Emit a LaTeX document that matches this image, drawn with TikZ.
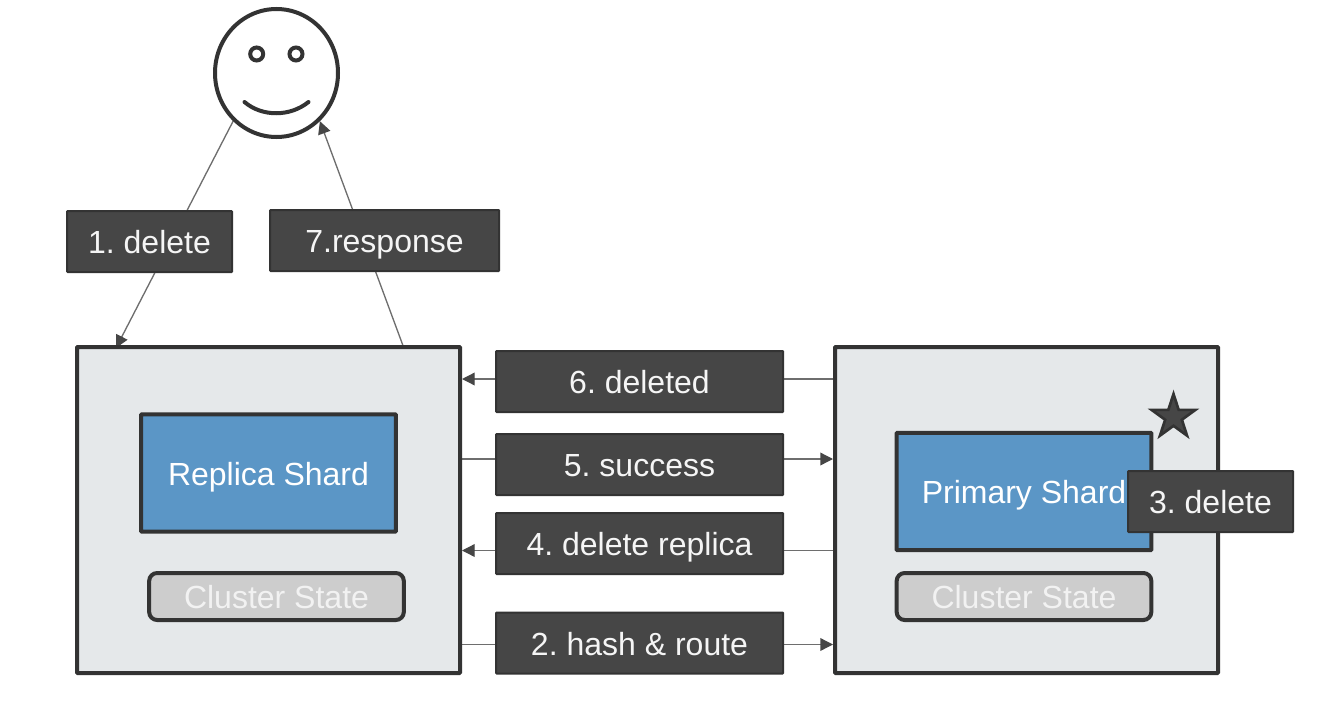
\documentclass[tikz,border=0pt]{standalone}
\usepackage{fontspec}
\setmainfont{Liberation Sans}
\usetikzlibrary{arrows.meta}
\usetikzlibrary{shapes.geometric}
\definecolor{edgeDark}{HTML}{333333}
\definecolor{labelDark}{HTML}{464646}
\definecolor{linkGray}{HTML}{6E6E6E}
\definecolor{nodeBack}{HTML}{E5E8EA}
\definecolor{shardBlue}{HTML}{5B96C6}
\definecolor{stateGray}{HTML}{CDCDCD}
\pgfdeclarelayer{back}
\pgfsetlayers{back,main}
\frenchspacing
\tikzset{
  txt/.style={font=\fontsize{24}{28}\selectfont,text height=18.7pt,text depth=0pt,align=center,inner sep=0pt},
  hostbox/.style={draw=edgeDark,fill=nodeBack,line width=3pt,minimum width=287.25pt,minimum height=244.5pt,rounded corners=0.5pt},
  shardbox/.style={txt,draw=edgeDark,fill=shardBlue,text=white,line width=3pt,minimum width=191pt,minimum height=88pt,rounded corners=0.5pt},
  statebox/.style={txt,draw=edgeDark,fill=stateGray,text=white!95!black,line width=3pt,minimum width=191pt,minimum height=35.25pt,rounded corners=6pt},
  msgbox/.style={txt,draw=edgeDark,fill=labelDark,text=white!96!black,line width=1.5pt,minimum height=45.75pt,rounded corners=0.5pt},
  link/.style={draw=linkGray,line width=1pt,-{Triangle[length=9.5pt,width=9.5pt,color=labelDark]}},
  eye/.style={circle,draw=edgeDark,fill=white,line width=3pt,minimum size=9.75pt,inner sep=0pt},
}
\begin{document}
\begin{tikzpicture}[x=0.75pt,y=0.75pt,yscale=-1,xscale=1]
\useasboundingbox (0,0) rectangle (1317,717);

% Person
\node [ellipse,draw=edgeDark,fill=white,line width=3pt,minimum width=92.25pt,minimum height=96pt,inner sep=0pt] (face) at (276.5,73) {};
\node [eye] (eyeLeft) at (256.7,54) {};
\node [eye] (eyeRight) at (296,54) {};
\draw [edgeDark,line width=3pt,line cap=round] (244.5,102) .. controls (262,117) and (290,117) .. (308.5,102) ;

% Hosts
\node [hostbox] (replica) at (268.5,510) {};
\node [hostbox] (primary) at (1026.5,510) {};

% Text Node
\node [shardbox] (replicaShard) at (268.5,473) {Replica Shard};
\node [shardbox] (primaryShard) at (1024,491.5) {Primary Shard};
\node [statebox] (replicaState) at (276.5,596.5) {Cluster State};
\node [statebox] (primaryState) at (1024,596.5) {Cluster State};
\node [star,star points=5,star point ratio=2.618,draw=edgeDark,fill=labelDark,line width=2pt,minimum size=34.5pt,inner sep=0pt] (primaryMark) at (1173.5,417) {};

% Labels
\node [msgbox,minimum width=123.75pt] (msgDelete) at (149.5,241.5) {1. delete};
\node [msgbox,minimum width=171.75pt] (msgResponse) at (384.5,240.5) {7.response};
\node [msgbox,minimum width=215.25pt] (msgDeleted) at (639.5,381.5) {6. deleted};
\node [msgbox,minimum width=215.25pt] (msgSuccess) at (639.5,464.5) {5. success};
\node [msgbox,minimum width=215.25pt] (msgReplica) at (639.5,543.5) {4. delete replica};
\node [msgbox,minimum width=215.25pt] (msgRoute) at (639.5,643) {2. hash \& route};
\node [msgbox,minimum width=123.75pt] (msgLocal) at (1210.5,501.5) {3. delete};

% free ends on the top of the replica box
\coordinate (replicaIn) at (116,348);
\coordinate (replicaOut) at (403.5,347);

%Straight Lines
\begin{pgfonlayer}{back}
\draw [link] (face.228) -- (replicaIn) ;
\draw [link] (replicaOut) -- (face.312) ;
\draw [link] (primary.west |- 0,379) -- (replica.east |- 0,379) ;
\draw [link] (replica.east |- 0,459) -- (primary.west |- 0,459) ;
\draw [link] (primary.west |- 0,550.5) -- (replica.east |- 0,550.5) ;
\draw [link] (replica.east |- 0,644.5) -- (primary.west |- 0,644.5) ;
\end{pgfonlayer}

\end{tikzpicture}
\end{document}
